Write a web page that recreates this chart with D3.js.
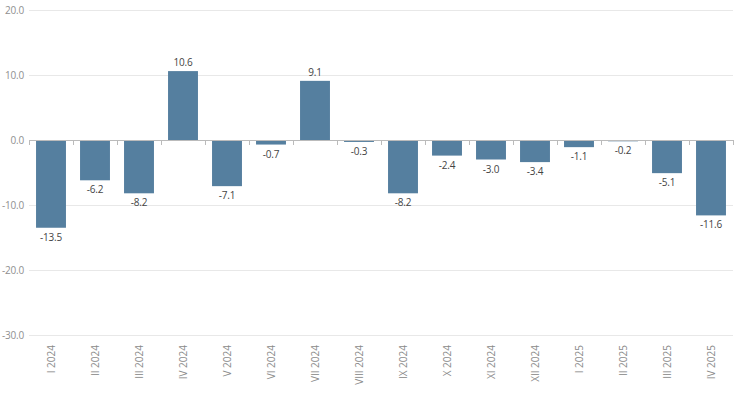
<!DOCTYPE html>
<html><head><meta charset="utf-8">
<script src="https://cdn.jsdelivr.net/npm/d3@7"></script>
<style>body{margin:0;background:#fff;}svg{display:block;font-family:"Open Sans",sans-serif;}</style>
</head><body>
<svg id="c" width="740" height="396"></svg>
<script>
const categories = ["I 2024","II 2024","III 2024","IV 2024","V 2024","VI 2024","VII 2024","VIII 2024","IX 2024","X 2024","XI 2024","XII 2024","I 2025","II 2025","III 2025","IV 2025"];
const values = [-13.5,-6.2,-8.2,10.6,-7.1,-0.7,9.1,-0.3,-8.2,-2.4,-3.0,-3.4,-1.1,-0.2,-5.1,-11.6];
const yTicks = [20,10,0,-10,-20,-30];

(function () {
const svg = d3.select("#c");
const mLeft = 29, mRight = 733, mTop = 10, mBottom = 335;
const x = d3.scaleBand().domain(categories).range([mLeft, mRight]).paddingInner(0.32).paddingOuter(0.16);
const y = d3.scaleLinear().domain([-30, 20]).range([mBottom, mTop]);

// gridlines
svg.append("g").selectAll("line").data(yTicks.filter(d => d !== 0)).join("line")
  .attr("x1", mLeft).attr("x2", mRight).attr("y1", d => Math.round(y(d)) + 0.5).attr("y2", d => Math.round(y(d)) + 0.5)
  .attr("stroke", "#e8e8e8").attr("stroke-width", 1);

// y labels
svg.append("g").selectAll("text").data(yTicks).join("text")
  .attr("x", 24).attr("y", d => y(d) + 3.5).attr("text-anchor", "end")
  .attr("font-size", 10).attr("letter-spacing", -0.2).attr("fill", "#8f8f8f").text(d => d.toFixed(1));

// bars
svg.append("g").selectAll("rect").data(values).join("rect")
  .attr("x", (d, i) => x(categories[i]))
  .attr("width", x.bandwidth())
  .attr("y", d => y(Math.max(0, d)))
  .attr("height", d => Math.abs(y(d) - y(0)))
  .attr("fill", "#557f9f");

// zero axis line and ticks
svg.append("line").attr("x1", mLeft).attr("x2", mRight).attr("y1", y(0) + 0.5).attr("y2", y(0) + 0.5)
  .attr("stroke", "#bbbbbb").attr("stroke-width", 1);
const bounds = d3.range(categories.length + 1).map(i => mLeft + i * (mRight - mLeft) / categories.length);
svg.append("g").selectAll("line").data(bounds).join("line")
  .attr("x1", d => Math.round(d) + 0.5).attr("x2", d => Math.round(d) + 0.5)
  .attr("y1", y(0)).attr("y2", y(0) + 5)
  .attr("stroke", "#bbbbbb");

// value labels
svg.append("g").selectAll("text").data(values).join("text")
  .attr("x", (d, i) => x(categories[i]) + x.bandwidth() / 2)
  .attr("y", d => d >= 0 ? y(d) - 5 : y(d) + 13)
  .attr("text-anchor", "middle").attr("font-size", 10).attr("letter-spacing", -0.2).attr("fill", "#444")
  .text(d => d.toFixed(1));

// x labels
svg.append("g").selectAll("text").data(categories).join("text")
  .attr("transform", d => `translate(${x(d) + x.bandwidth() / 2 + 3.5},${mBottom + 10}) rotate(-90)`)
  .attr("text-anchor", "end").attr("font-size", 10).attr("fill", "#8a8a8a")
  .text(d => d);
})();
</script>
</body></html>
